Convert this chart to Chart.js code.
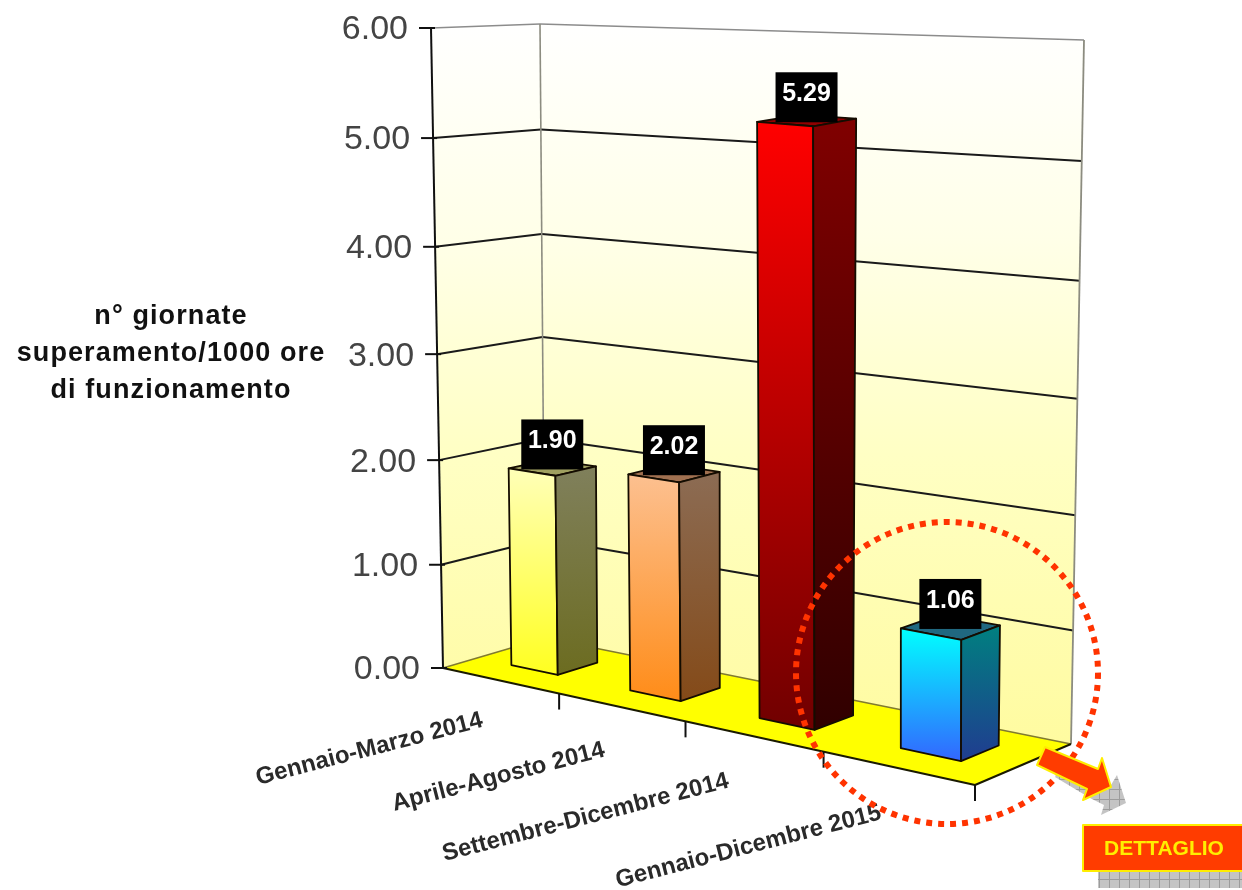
<!DOCTYPE html>
<html>
<head>
<meta charset="utf-8">
<title>Giornate superamento</title>
<script src="https://cdn.jsdelivr.net/npm/chart.js@4"></script>
<style>
  html, body { margin: 0; padding: 0; background: #fff; }
  canvas { display: block; }
</style>
</head>
<body>
<canvas id="chart" width="1242" height="890"></canvas>
<script>
// dati
const categories = ['Gennaio-Marzo 2014', 'Aprile-Agosto 2014', 'Settembre-Dicembre 2014', 'Gennaio-Dicembre 2015'];
const values = [1.90, 2.02, 5.29, 1.06];
const tickLabels = ['0.00', '1.00', '2.00', '3.00', '4.00', '5.00', '6.00'];
const yTitle = ['n° giornate', 'superamento/1000 ore', 'di funzionamento'];
const buttonLabel = 'DETTAGLIO';

// colori: [alto, basso] per faccia frontale e laterale
const frontColors = [['#ffffb8', '#ffff20'], ['#fcc090', '#ff8c18'], ['#ff0000', '#700000'], ['#00ffff', '#3366ff']];
const sideColors = [['#80805c', '#6c6c20'], ['#8c6c54', '#844a18'], ['#800000', '#300000'], ['#008080', '#203c90']];
const topColors = ['#a0a060', '#a07050', '#900000', '#206880'];

// vista prospettica: angoli del pavimento (0,0 / 1,0 / 1,1 / 0,1), altezza e pendenza agli stessi angoli
const floorQuad = [[443, 668], [975, 785], [1071, 744], [545, 638]];
const wallHeight = [640, 720, 704, 614];
const wallLean = [-12, -3, 13, -5];
const barDepth = [0.33, 0.72];
const labelShift = [[-16, 46], [-15, 49], [-23, 51], [-15, 51]];

function quadMap(q) {
    const [p0, p1, p2, p3] = q;
    const dx1 = p1[0] - p2[0], dx2 = p3[0] - p2[0], sx = p0[0] - p1[0] + p2[0] - p3[0];
    const dy1 = p1[1] - p2[1], dy2 = p3[1] - p2[1], sy = p0[1] - p1[1] + p2[1] - p3[1];
    const det = dx1 * dy2 - dx2 * dy1;
    const g = (sx * dy2 - dx2 * sy) / det, h = (dx1 * sy - sx * dy1) / det;
    const a = p1[0] - p0[0] + g * p1[0], b = p3[0] - p0[0] + h * p3[0];
    const d = p1[1] - p0[1] + g * p1[1], e = p3[1] - p0[1] + h * p3[1];
    return (u, v) => {
        const w = g * u + h * v + 1;
        return [(a * u + b * v + p0[0]) / w, (d * u + e * v + p0[1]) / w];
    };
}
const floorAt = quadMap(floorQuad);

function bilinear(c, u, v) {
    return (1 - v) * ((1 - u) * c[0] + u * c[1]) + v * (u * c[2] + (1 - u) * c[3]);
}

// t = 0 sul pavimento, t = 1 al massimo dell'asse
function project(u, v, t) {
    const f = floorAt(u, v);
    const s = t * (1 + 0.04 * t) / 1.04;
    return [f[0] + bilinear(wallLean, u, v) * s, f[1] - bilinear(wallHeight, u, v) * s];
}

function poly(ctx, pts, fill, stroke, lw) {
    ctx.beginPath();
    pts.forEach((p, i) => i ? ctx.lineTo(p[0], p[1]) : ctx.moveTo(p[0], p[1]));
    ctx.closePath();
    if (fill) { ctx.fillStyle = fill; ctx.fill(); }
    if (stroke) { ctx.strokeStyle = stroke; ctx.lineWidth = lw || 1; ctx.stroke(); }
}

function line(ctx, a, b, color, lw) {
    ctx.beginPath();
    ctx.moveTo(a[0], a[1]);
    ctx.lineTo(b[0], b[1]);
    ctx.strokeStyle = color;
    ctx.lineWidth = lw;
    ctx.stroke();
}

function hatch(ctx) {
    const c = document.createElement('canvas');
    c.width = c.height = 10;
    const g = c.getContext('2d');
    g.fillStyle = '#c4c4c4';
    g.fillRect(0, 0, 10, 10);
    g.fillStyle = '#9c9c9c';
    g.fillRect(0, 9, 10, 1);
    g.fillRect(9, 0, 1, 10);
    return ctx.createPattern(c, 'repeat');
}

const scene = {
    id: 'scene',
    beforeDatasetsDraw(chart) {
        const ctx = chart.ctx, y = chart.scales.y;
        const frac = val => (y.bottom - y.getPixelForValue(val)) / (y.bottom - y.top);

        const wall = ctx.createLinearGradient(0, 20, 0, 745);
        wall.addColorStop(0, '#ffffff');
        wall.addColorStop(0.3, '#ffffe8');
        wall.addColorStop(0.6, '#ffffc4');
        wall.addColorStop(1, '#fffba0');
        poly(ctx, [project(0, 0, 0), project(0, 1, 0), project(0, 1, 1), project(0, 0, 1)], wall);
        poly(ctx, [project(0, 1, 0), project(1, 1, 0), project(1, 1, 1), project(0, 1, 1)], wall);
        poly(ctx, [project(0, 0, 0), project(1, 0, 0), project(1, 1, 0), project(0, 1, 0)], '#ffff00');

        // griglia sulle due pareti
        y.ticks.forEach(tick => {
            const t = frac(tick.value);
            if (t > 0 && t < 1) {
                line(ctx, project(0, 0, t), project(0, 1, t), '#1a1a1a', 2);
                line(ctx, project(0, 1, t), project(1, 1, t), '#1a1a1a', 2);
            }
        });
        line(ctx, project(0, 0, 1), project(0, 1, 1), '#8c8c8c', 1.6);
        line(ctx, project(0, 1, 1), project(1, 1, 1), '#8c8c8c', 1.6);
        line(ctx, project(0, 1, 0), project(0, 1, 1), '#8c8c80', 1.6);
        line(ctx, project(1, 1, 0), project(1, 1, 1), '#8c8c80', 1.8);
        line(ctx, project(0, 0, 0), project(0, 1, 0), '#807a30', 1.4);
        line(ctx, project(0, 1, 0), project(1, 1, 0), '#807a30', 1.4);
        line(ctx, project(0, 0, 0), project(1, 0, 0), '#1a1a00', 2);
        line(ctx, project(1, 0, 0), project(1, 1, 0), '#1a1a00', 2);

        // asse y, tacche ed etichette
        line(ctx, project(0, 0, 0), project(0, 0, 1), '#101010', 2);
        ctx.textAlign = 'right';
        ctx.textBaseline = 'middle';
        ctx.font = '34px "Liberation Sans"';
        ctx.fillStyle = '#444';
        y.ticks.forEach(tick => {
            const p = project(0, 0, frac(tick.value));
            line(ctx, [p[0] - 12, p[1]], [p[0] + 4, p[1]], '#101010', 2);
            ctx.fillText(tick.label, p[0] - 23, p[1] + 2);
        });

        // tacche ed etichette delle categorie
        const x = chart.scales.x;
        const uOf = px => (px - x.left) / (x.right - x.left);
        for (let i = 1; i <= categories.length; i++) {
            const p = project(i / categories.length, 0, 0);
            line(ctx, p, [p[0], p[1] + 16], '#101010', 2);
        }
        ctx.font = 'bold 24px "Liberation Sans"';
        ctx.fillStyle = '#2a2a2a';
        categories.forEach((name, i) => {
            const p = project(uOf(x.getPixelForValue(i)), 0, 0);
            ctx.save();
            ctx.translate(p[0] + labelShift[i][0], p[1] + labelShift[i][1]);
            ctx.rotate(-14.5 * Math.PI / 180);
            ctx.textAlign = 'right';
            ctx.textBaseline = 'alphabetic';
            ctx.fillText(name, 0, 0);
            ctx.restore();
        });
    },
    afterDatasetsDraw(chart) {
        const ctx = chart.ctx, x = chart.scales.x, y = chart.scales.y;
        const uOf = px => (px - x.left) / (x.right - x.left);
        const [v0, v1] = barDepth;

        chart.getDatasetMeta(0).data.forEach((bar, i) => {
            const u0 = uOf(bar.x - bar.width / 2), u1 = uOf(bar.x + bar.width / 2);
            const t = (bar.base - bar.y) / (y.bottom - y.top);
            const a = project(u0, v0, 0), b = project(u1, v0, 0), c = project(u1, v1, 0);
            const A = project(u0, v0, t), B = project(u1, v0, t), C = project(u1, v1, t), D = project(u0, v1, t);

            const fg = ctx.createLinearGradient(0, Math.min(A[1], B[1]), 0, Math.max(a[1], b[1]));
            fg.addColorStop(0, frontColors[i][0]);
            fg.addColorStop(1, frontColors[i][1]);
            const sg = ctx.createLinearGradient(0, Math.min(B[1], C[1]), 0, Math.max(b[1], c[1]));
            sg.addColorStop(0, sideColors[i][0]);
            sg.addColorStop(1, sideColors[i][1]);

            ctx.lineJoin = 'round';
            poly(ctx, [A, B, C, D], topColors[i], '#140c00', 1.8);
            poly(ctx, [a, b, B, A], fg, '#140c00', 1.8);
            poly(ctx, [b, c, C, B], sg, '#140c00', 1.8);

            // etichetta del valore, centrata sulla faccia superiore
            const m = project((u0 + u1) / 2, (v0 + v1) / 2, t);
            const w = 62, h = 50;
            ctx.fillStyle = '#000';
            ctx.fillRect(m[0] - w / 2, m[1] - h + 2, w, h);
            ctx.fillStyle = '#fff';
            ctx.font = 'bold 25px "Liberation Sans"';
            ctx.textAlign = 'center';
            ctx.textBaseline = 'middle';
            ctx.fillText(values[i].toFixed(2), m[0], m[1] - h / 2 - 1);
        });

        // titolo asse y
        ctx.fillStyle = '#111';
        ctx.font = 'bold 27px "Liberation Sans"';
        ctx.letterSpacing = '1.1px';
        ctx.textAlign = 'center';
        ctx.textBaseline = 'middle';
        yTitle.forEach((s, i) => ctx.fillText(s, 171, 317 + i * 37));
        ctx.letterSpacing = '0px';

        // cerchio tratteggiato
        ctx.save();
        ctx.beginPath();
        ctx.arc(947, 673, 151, 0, Math.PI * 2);
        ctx.setLineDash([6, 6]);
        ctx.strokeStyle = '#ff3300';
        ctx.lineWidth = 6;
        ctx.stroke();
        ctx.restore();

        // freccia e pulsante con ombra retinata
        const pat = hatch(ctx);
        poly(ctx, [[1055, 777], [1090, 798], [1104, 805], [1101, 815], [1126, 803], [1117, 775], [1108, 790], [1060, 770]], pat);
        ctx.fillStyle = pat;
        ctx.fillRect(1098, 872, 144, 16);
        poly(ctx, [[1045, 747], [1037, 765], [1087, 789], [1083, 800], [1111, 787], [1102, 758], [1098, 769]], '#ff3c00', '#ffee00', 2);
        ctx.fillStyle = '#ff3c00';
        ctx.fillRect(1083, 825, 160, 46);
        ctx.strokeStyle = '#ffee00';
        ctx.lineWidth = 2;
        ctx.strokeRect(1083, 825, 160, 46);
        ctx.fillStyle = '#ffee00';
        ctx.font = 'bold 21px "Liberation Sans"';
        ctx.textAlign = 'center';
        ctx.fillText(buttonLabel, 1164, 849);
    }
};

new Chart(document.getElementById('chart'), {
    type: 'bar',
    data: {
        labels: categories,
        datasets: [{
            data: values,
            backgroundColor: 'transparent',
            borderWidth: 0,
            barPercentage: 0.40,
            categoryPercentage: 1
        }]
    },
    options: {
        responsive: false,
        animation: false,
        layout: { padding: { left: 431, right: 158, top: 28, bottom: 222 } },
        plugins: { legend: { display: false }, tooltip: { enabled: false } },
        scales: {
            x: { display: false },
            y: {
                display: false,
                min: 0,
                max: 6,
                ticks: { stepSize: 1, callback: (v, i) => tickLabels[i] }
            }
        }
    },
    plugins: [scene]
});
</script>
</body>
</html>
